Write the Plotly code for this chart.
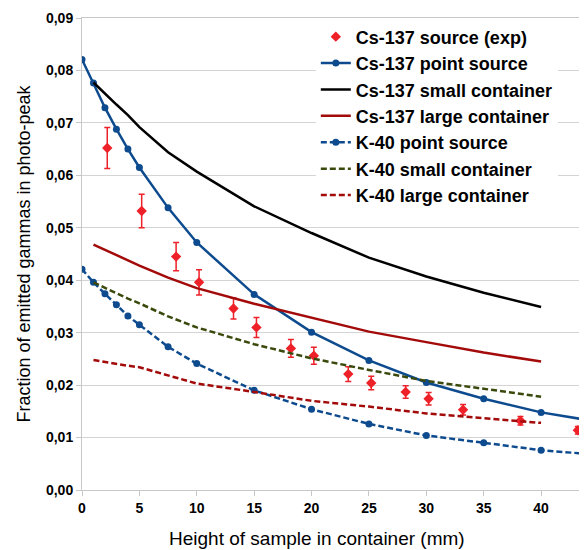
import plotly.graph_objects as go

# --- Daten ---
x_point = [0, 1, 2, 3, 4, 5, 7.5, 10, 15, 20, 25, 30, 35, 40, 45]
cs_point = [0.0821, 0.0776, 0.0729, 0.0688, 0.0650, 0.0615, 0.0538, 0.0472,
            0.0373, 0.0301, 0.0247, 0.0205, 0.0174, 0.0148, 0.0130]
k_point = [0.0421, 0.0396, 0.0374, 0.0353, 0.0332, 0.0315, 0.0273, 0.0241,
           0.0190, 0.0154, 0.0126, 0.0104, 0.0090, 0.0076, 0.0067]

x_cont = [1, 2, 3, 4, 5, 7.5, 10, 15, 20, 25, 30, 35, 40]
cs_small = [0.0777, 0.0755, 0.0735, 0.0715, 0.0692, 0.0644, 0.0607, 0.0541,
            0.0490, 0.0443, 0.0407, 0.0376, 0.0349]
cs_large = [0.0468, 0.0458, 0.0448, 0.0438, 0.0428, 0.0405, 0.0385, 0.0355,
            0.0329, 0.0302, 0.0282, 0.0262, 0.0245]
k_small = [0.0396, 0.0385, 0.0375, 0.0365, 0.0356, 0.0331, 0.0310, 0.0278,
           0.0251, 0.0229, 0.0208, 0.0193, 0.0178]
k_large = [0.0248, 0.0244, 0.0240, 0.0237, 0.0234, 0.0218, 0.0203, 0.0187,
           0.0170, 0.0159, 0.0146, 0.0137, 0.0128]

x_exp = [2.2, 5.2, 8.2, 10.2, 13.2, 15.2, 18.2, 20.2, 23.2, 25.2, 28.2, 30.2,
         33.2, 38.2, 43.2]
cs_exp = [0.0652, 0.0532, 0.0445, 0.0396, 0.0346, 0.0310, 0.0270, 0.0256,
          0.0221, 0.0204, 0.0187, 0.0174, 0.0153, 0.0132, 0.0114]
cs_exp_err = [0.0039, 0.0032, 0.0027, 0.0024, 0.0020, 0.0019, 0.0017, 0.0016,
              0.0014, 0.0013, 0.0012, 0.0012, 0.0010, 0.0008, 0.0007]

BLUE = '#0d4b8e'
DARKRED = '#a30a0a'
OLIVE = '#3a4a0c'
RED = '#ee2028'
DASH = '6px,3px'

fig = go.Figure()

fig.add_trace(go.Scatter(
    x=x_exp, y=cs_exp, mode='markers', name='Cs-137 source (exp)',
    marker=dict(symbol='diamond', size=8, color=RED),
    error_y=dict(type='data', array=cs_exp_err, color=RED, thickness=1.5, width=3)
))
fig.add_trace(go.Scatter(
    x=x_point, y=cs_point, mode='lines+markers', name='Cs-137 point source',
    line=dict(color=BLUE, width=2.5), marker=dict(size=7, color=BLUE)
))
fig.add_trace(go.Scatter(
    x=x_cont, y=cs_small, mode='lines', name='Cs-137 small container',
    line=dict(color='black', width=2.5)
))
fig.add_trace(go.Scatter(
    x=x_cont, y=cs_large, mode='lines', name='Cs-137 large container',
    line=dict(color=DARKRED, width=2.5)
))
fig.add_trace(go.Scatter(
    x=x_point, y=k_point, mode='lines+markers', name='K-40 point source',
    line=dict(color=BLUE, width=2.5, dash=DASH), marker=dict(size=7, color=BLUE)
))
fig.add_trace(go.Scatter(
    x=x_cont, y=k_small, mode='lines', name='K-40 small container',
    line=dict(color=OLIVE, width=2.5, dash=DASH)
))
fig.add_trace(go.Scatter(
    x=x_cont, y=k_large, mode='lines', name='K-40 large container',
    line=dict(color=DARKRED, width=2.5, dash=DASH)
))

axis_font = dict(family='Liberation Sans', size=14, color='black')

# Seite hat 8px Rand -> Figur etwas kleiner, damit nichts scrollt
fig.update_layout(
    width=579, height=542,
    margin=dict(l=74, r=0, t=10, b=60),
    paper_bgcolor='white', plot_bgcolor='white',
    separators=',.',
    font=dict(family='Liberation Sans', color='black'),
    showlegend=True,
    legend=dict(
        x=0.463, y=0.999, xanchor='left', yanchor='top',
        bgcolor='white', borderwidth=0,
        font=dict(family='Liberation Sans', size=18, color='black', weight='bold'),
        itemwidth=30
    ),
    xaxis=dict(
        range=[0, 44], dtick=5, tick0=0, automargin=False,
        tickfont=dict(axis_font, weight='bold'),
        showgrid=False, zeroline=False,
        showline=True, linecolor='#c8c8c8', linewidth=1, mirror=True,
        ticks='outside', ticklen=5, tickcolor='#c8c8c8'
    ),
    yaxis=dict(
        range=[0, 0.09], dtick=0.01, tickformat='.2f', automargin=False,
        tickfont=dict(axis_font, weight='bold'),
        title=dict(text='Fraction of emitted gammas in photo-peak',
                   font=dict(family='Liberation Sans', size=18, color='black'),
                   standoff=10),
        showgrid=True, gridcolor='#d4d4d4', zeroline=False,
        showline=True, linecolor='#c8c8c8', linewidth=1,
        ticks='outside', ticklen=5, tickcolor='#c8c8c8'
    ),
    annotations=[dict(
        text='Height of sample in container (mm)',
        xref='paper', yref='paper', x=0.465, y=-0.103,
        xanchor='center', yanchor='middle', showarrow=False,
        font=dict(family='Liberation Sans', size=19, color='black')
    )]
)

fig.write_html("out.html")
